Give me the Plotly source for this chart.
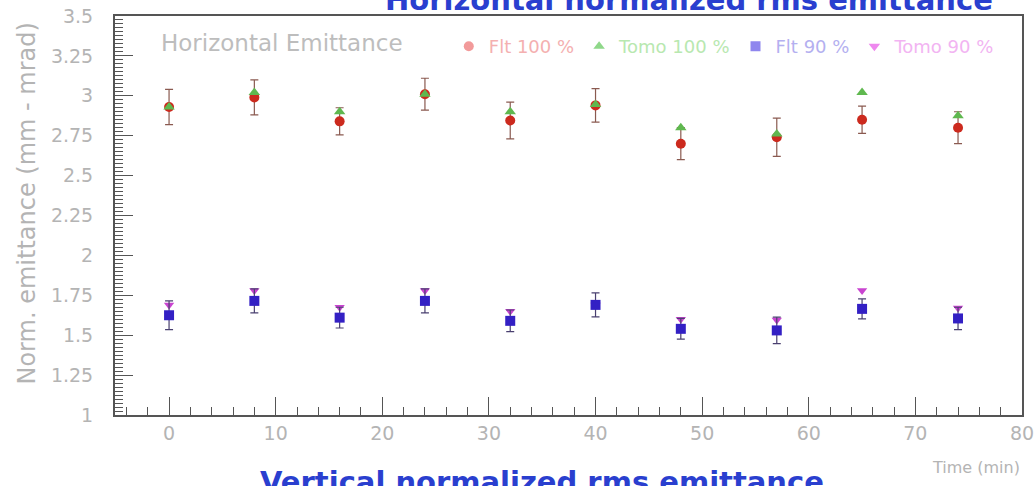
import plotly.graph_objects as go

# Measurement times (min)
time_min = [0, 8, 16, 24, 32, 40, 48, 57, 65, 74]

# Horizontal normalized rms emittance (mm·mrad)
fit_100 = [2.93, 2.99, 2.84, 3.01, 2.845, 2.94, 2.70, 2.74, 2.85, 2.80]
fit_100_err = [0.11, 0.11, 0.085, 0.10, 0.115, 0.105, 0.10, 0.12, 0.085, 0.10]
tomo_100 = [2.93, 3.02, 2.90, 3.01, 2.90, 2.945, 2.80, 2.76, 3.02, 2.875]
fit_90 = [1.625, 1.715, 1.61, 1.715, 1.59, 1.69, 1.54, 1.53, 1.665, 1.605]
fit_90_err = [0.09, 0.075, 0.065, 0.075, 0.068, 0.075, 0.065, 0.083, 0.0625, 0.07]
tomo_90 = [1.69, 1.78, 1.675, 1.78, 1.65, 1.69, 1.60, 1.595, 1.78, 1.67]

y_tick_vals = [1, 1.25, 1.5, 1.75, 2, 2.25, 2.5, 2.75, 3, 3.25, 3.5]
y_tick_text = ["1", "1.25", "1.5", "1.75", "2", "2.25", "2.5", "2.75", "3", "3.25", "3.5"]
x_tick_vals = [0, 10, 20, 30, 40, 50, 60, 70, 80]
x_tick_text = ["0", "10", "20", "30", "40", "50", "60", "70", "80"]

FONT = "DejaVu Sans"
LABEL_GREY = "#b4b4b4"
FRAME = "#555555"
TITLE_BLUE = "#2a3fcf"

fig = go.Figure()

# data traces (tomography points on top of fits within each group)
fig.add_trace(go.Scatter(
    x=time_min, y=fit_100, mode="markers", showlegend=False,
    marker=dict(symbol="circle", size=10, color="#cc2a1e"),
    error_y=dict(type="data", array=fit_100_err, color="#8a5a50", thickness=1.2, width=4),
))
fig.add_trace(go.Scatter(
    x=time_min, y=tomo_100, mode="markers", showlegend=False,
    marker=dict(symbol="triangle-up", size=10, color="#5fb84f"),
))
fig.add_trace(go.Scatter(
    x=time_min, y=tomo_90, mode="markers", showlegend=False,
    marker=dict(symbol="triangle-down", size=9, color="#c944d0"),
))
fig.add_trace(go.Scatter(
    x=time_min, y=fit_90, mode="markers", showlegend=False,
    marker=dict(symbol="square", size=10, color="#3320c4"),
    error_y=dict(type="data", array=fit_90_err, color="#4a4070", thickness=1.2, width=4),
))

# legend entries in faded colours
legend_items = [
    ("Flt 100 %", "circle", "#f29a9a", "#f4b0b0"),
    ("Tomo 100 %", "triangle-up", "#8fd88a", "#b8e8b0"),
    ("Flt 90 %", "square", "#8f86ee", "#b4b0f0"),
    ("Tomo 90 %", "triangle-down", "#ee88ee", "#f2b4f2"),
]
for name, sym, mcol, tcol in legend_items:
    fig.add_trace(go.Scatter(
        x=[None], y=[None], mode="markers",
        name=f"<span style='color:{tcol}'>{name}</span>",
        marker=dict(symbol=sym, size=10, color=mcol),
    ))

fig.update_layout(
    width=1036, height=486,
    margin=dict(l=115, r=14, t=16, b=71),
    paper_bgcolor="white", plot_bgcolor="white",
    font=dict(family=FONT, color=LABEL_GREY),
    showlegend=True,
    legend=dict(
        orientation="h", x=0.368, y=0.97, xanchor="left", yanchor="top",
        bgcolor="rgba(0,0,0,0)", font=dict(size=18, family=FONT),
        itemwidth=30, tracegroupgap=0,
    ),
    xaxis=dict(
        range=[-5.07, 80], showgrid=False, zeroline=False, automargin=False,
        tickmode="array", tickvals=x_tick_vals, ticktext=x_tick_text,
        ticks="inside", ticklen=18, tickwidth=1.2, tickcolor=FRAME,
        tickfont=dict(size=19, color=LABEL_GREY),
        minor=dict(dtick=2, ticks="inside", ticklen=8, tickwidth=1, tickcolor=FRAME, showgrid=False),
        showline=True, linecolor=FRAME, linewidth=2, mirror=True,
    ),
    yaxis=dict(
        range=[1, 3.5], showgrid=False, zeroline=False, automargin=False,
        tickmode="array", tickvals=y_tick_vals, ticktext=y_tick_text,
        ticks="inside", ticklen=18, tickwidth=1.2, tickcolor=FRAME,
        tickfont=dict(size=19, color=LABEL_GREY), ticklabelstandoff=16,
        minor=dict(dtick=0.025, tick0=1, ticks="inside", ticklen=8, tickwidth=1, tickcolor=FRAME, showgrid=False),
        showline=True, linecolor=FRAME, linewidth=2, mirror=True,
    ),
    annotations=[
        dict(text="<b>Horizontal normalized rms emittance</b>", xref="paper", yref="paper",
             x=0.633, y=1, xanchor="center", yanchor="bottom", yshift=-3, showarrow=False,
             font=dict(size=29, family=FONT, color=TITLE_BLUE)),
        dict(text="<b>Vertical normalized rms emittance</b>", xref="paper", yref="paper",
             x=0.158, y=0, xanchor="left", yanchor="top", yshift=-48, showarrow=False,
             font=dict(size=29, family=FONT, color=TITLE_BLUE)),
        dict(text="Horizontal Emittance", xref="paper", yref="paper",
             x=0.048, y=0.97, xanchor="left", yanchor="top", showarrow=False,
             font=dict(size=23, family=FONT, color="#bdbdbd")),
        dict(text="Norm. emittance (mm - mrad)", xref="paper", yref="paper",
             x=0, y=0.53, xanchor="center", yanchor="middle", xshift=-88, textangle=-90,
             showarrow=False, font=dict(size=24, family=FONT, color=LABEL_GREY)),
        dict(text="Time (min)", xref="paper", yref="paper",
             x=1, y=0, xanchor="right", yanchor="top", yshift=-41, showarrow=False,
             font=dict(size=16, family=FONT, color=LABEL_GREY)),
    ],
)

fig.write_html("out.html")
